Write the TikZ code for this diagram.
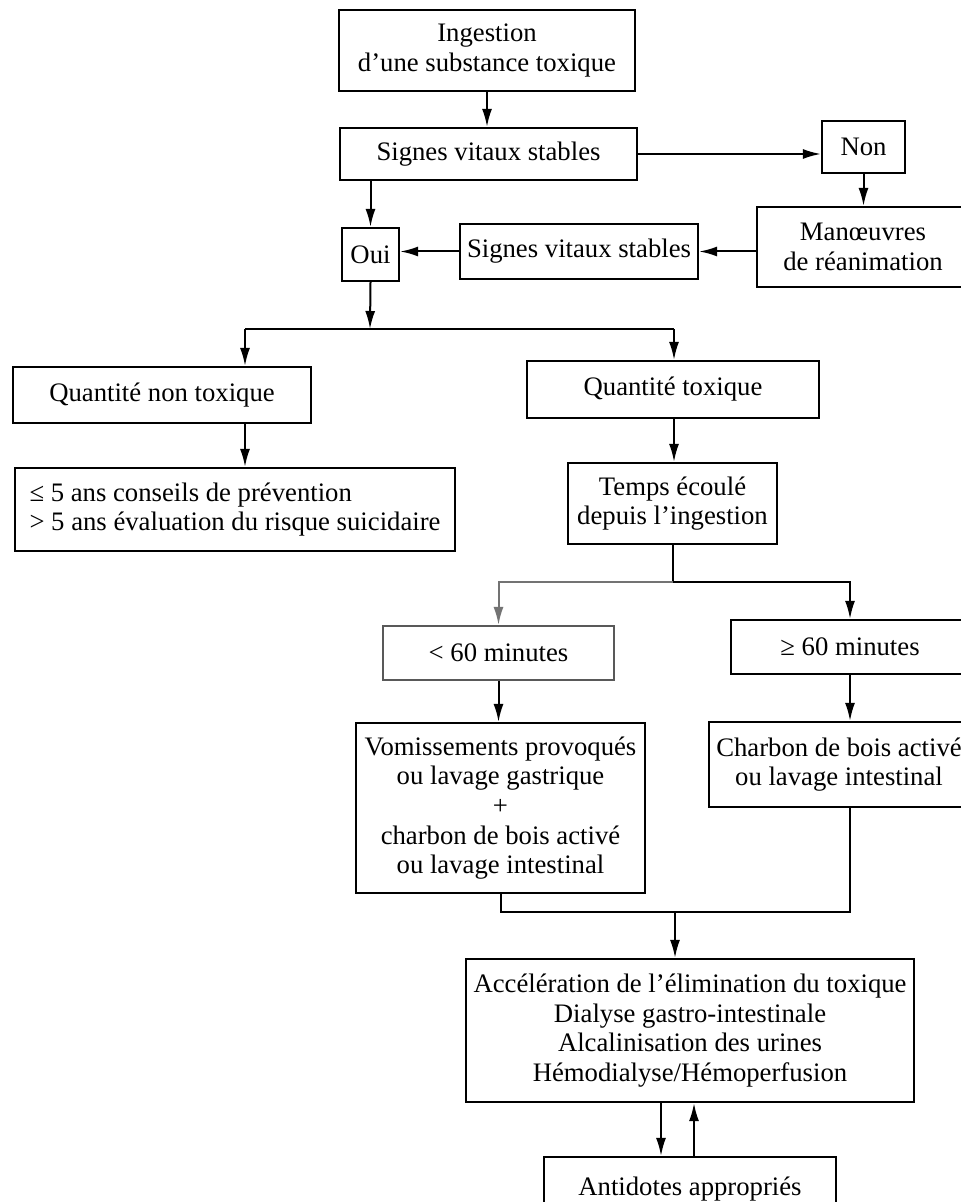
\documentclass[tikz,border=0pt]{standalone}
\usepackage{fontspec}
\setmainfont{Liberation Serif}
\usetikzlibrary{arrows.meta}
\begin{document}
\begin{tikzpicture}[x=0.5pt,y=-0.5pt,
  box/.style={draw, line width=1.1pt, inner sep=0pt, align=center,
    font=\fontsize{13.35}{14.8}\selectfont},
  arr/.style={line width=1pt, -{Latex[length=9pt,width=5pt]}},
  ln/.style={line width=1pt},
  faded/.style={black!55}]
\useasboundingbox (0,0) rectangle (960,1202);
\fill[white] (0,0) rectangle (960,1202);

\node[box, minimum width=148pt, minimum height=40.5pt] (ing) at (487,50.5) {Ingestion\\d’une substance toxique};
\node[box, minimum width=148.5pt, minimum height=26pt] (svs1) at (488.5,154) {Signes vitaux stables};
\node[box, minimum width=41.5pt, minimum height=26pt] (non) at (863.5,147) {Non};
\node[box, minimum width=106pt, minimum height=40pt] (man) at (863,247) {Manœuvres\\de réanimation};
\node[box, minimum width=119pt, minimum height=27.5pt] (svs2) at (579,251.5) {Signes vitaux stables};
\node[box, minimum width=28.5pt, minimum height=26.5pt] (oui) at (370.5,254.5) {Oui};
\node[box, minimum width=149pt, minimum height=28pt] (qnt) at (162,395) {Quantité non toxique};
\node[box, minimum width=146pt, minimum height=28.5pt] (qt) at (673,389.5) {Quantité toxique};
\node[box, align=left, minimum width=220pt, minimum height=41.5pt] (five) at (235,509.5) {≤ 5 ans conseils de prévention\\> 5 ans évaluation du risque suicidaire};
\node[box, minimum width=104.5pt, minimum height=40.5pt] (temps) at (672.5,503.5) {Temps écoulé\\depuis l’ingestion};
\node[box, draw=black!65, minimum width=115.5pt, minimum height=27pt] (lt60) at (498.5,653) {< 60 minutes};
\node[box, minimum width=119pt, minimum height=27pt] (ge60) at (850,647) {≥ 60 minutes};
\node[box, minimum width=144.5pt, minimum height=85pt] (vom) at (500.5,808) {Vomissements provoqués\\ou lavage gastrique\\+\\charbon de bois activé\\ou lavage intestinal};
\node[box, minimum width=130pt, minimum height=42.5pt] (charb) at (839,764.5) {Charbon de bois activé\\ou lavage intestinal};
\node[box, minimum width=224pt, minimum height=71.5pt] (accel) at (690,1030.5) {Accélération de l’élimination du toxique\\Dialyse gastro-intestinale\\Alcalinisation des urines\\Hémodialyse/Hémoperfusion};
\node[box, minimum width=146pt, minimum height=32pt, text depth=0pt] (anti) at (690,1189) {\raisebox{2.5pt}{Antidotes appropriés}};

\coordinate (s1) at (370,329);
\coordinate (l1) at (245,329);
\coordinate (r1) at (674,329);
\coordinate (s2) at (672.5,582);
\coordinate (m) at (675,912);

\draw[arr] (ing.south) -- (ing.south |- svs1.north);
\draw[arr] (svs1.east) -- (svs1.east -| non.west);
\draw[arr] (non.south) -- (non.south |- man.north);
\draw[arr] (man.west |- svs2.east) -- (svs2.east);
\draw[arr] (svs2.west) -- (svs2.west -| oui.east);
\draw[arr] (oui.north |- svs1.south) -- (oui.north);
\draw[arr] (oui.south) -- (s1);
\draw[ln] (l1) -- (r1);
\draw[arr] (l1) -- (l1 |- qnt.north);
\draw[arr] (r1) -- (r1 |- qt.north);
\draw[arr] (qnt.south -| l1) -- (five.north -| l1);
\draw[arr] (qt.south -| r1) -- (temps.north -| r1);
\draw[ln] (temps.south) -- (s2);
\draw[arr, faded] (s2) -| (lt60.north);
\draw[arr] (s2) -| (ge60.north);
\draw[arr] (lt60.south) -- (lt60.south |- vom.north);
\draw[arr] (ge60.south) -- (ge60.south |- charb.north);
\draw[ln] (vom.south) |- (m) -| (ge60.south |- charb.south);
\draw[arr] (m) -- (m |- accel.north);
\draw[arr] ([xshift=-14.5pt]accel.south) -- ([xshift=-14.5pt]accel.south |- anti.north);
\draw[arr] ([xshift=2pt]anti.north) -- ([xshift=2pt]anti.north |- accel.south);
\end{tikzpicture}
\end{document}
